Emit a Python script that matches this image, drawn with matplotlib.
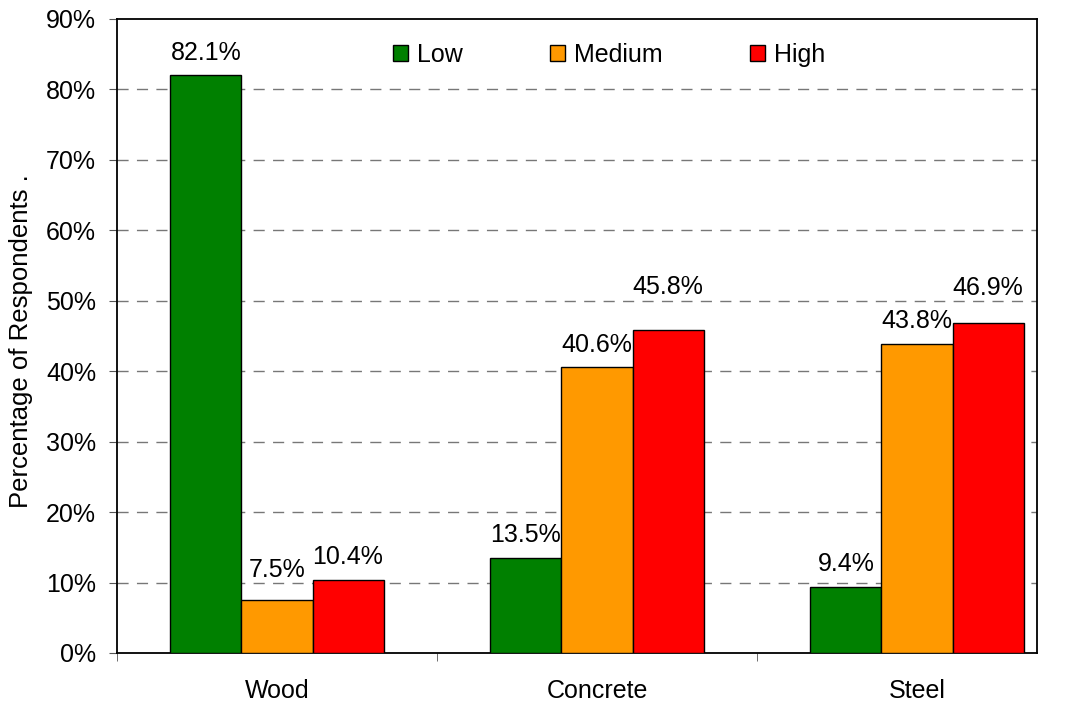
import matplotlib
matplotlib.use("Agg")
import matplotlib.pyplot as plt
import numpy as np
from matplotlib.ticker import FuncFormatter

plt.rcParams['font.family'] = ['Liberation Sans', 'DejaVu Sans']

categories = ["Wood", "Concrete", "Steel"]
series_names = ["Low", "Medium", "High"]
low = [82.1, 13.5, 9.4]
medium = [7.5, 40.6, 43.8]
high = [10.4, 45.8, 46.9]
colors = ["#008000", "#FF9900", "#FF0000"]
# label baseline positions (data units) as placed in the original
label_y_low = [84.2, 15.8, 11.6]
label_y_medium = [10.8, 42.7, 46.1]
label_y_high = [12.6, 50.95, 50.85]

fig = plt.figure(figsize=(10.66, 7.03), dpi=100)
ax = fig.add_axes([117/1066, 1-653/703, 920/1066, 634/703])

x = np.arange(len(categories))
w = 0.222
all_vals = [low, medium, high]
all_ly = [label_y_low, label_y_medium, label_y_high]
for i, (vals, ly) in enumerate(zip(all_vals, all_ly)):
    pos = x + (i - 1) * w
    ax.bar(pos, vals, width=w, color=colors[i], edgecolor="black", linewidth=1,
           label=series_names[i], zorder=3)
    for px, v, yy in zip(pos, vals, ly):
        ax.text(px, yy, f"{v:.1f}%", ha="center", va="baseline", fontsize=18, zorder=4)

ax.set_xlim(-0.5, 2.375)
ax.set_ylim(0, 90)
ax.set_yticks(np.arange(0, 91, 10))
ax.yaxis.set_major_formatter(FuncFormatter(lambda v, p: f"{int(v)}%"))
ax.set_xticks(x)
ax.set_xticklabels(categories)
ax.set_xticks([-0.5, 0.5, 1.5], minor=True)
ax.tick_params(axis="x", which="major", length=0, pad=19, labelsize=18)
ax.tick_params(axis="x", which="minor", length=6, direction="out", color="#555555")
ax.tick_params(axis="y", length=6, direction="out", labelsize=18, color="#555555", pad=9)

for yv in range(10, 90, 10):
    ax.axhline(yv, color="#777777", linestyle=(0, (8, 6)), linewidth=1, zorder=1)

for s in ax.spines.values():
    s.set_color("black")
    s.set_linewidth(1.3)

ax.set_ylabel("Percentage of Respondents .", fontsize=18.5)
ax.yaxis.set_label_coords(-0.091, 0.492)

leg = ax.legend(loc="center", bbox_to_anchor=(0.535, 0.943), ncol=3, frameon=False,
                fontsize=18, handlelength=0.6, handleheight=0.6, handletextpad=0.36,
                columnspacing=3.5)
for h in leg.legend_handles:
    h.set_edgecolor("black")
    h.set_linewidth(1)

fig.savefig("out.png", dpi=100)
